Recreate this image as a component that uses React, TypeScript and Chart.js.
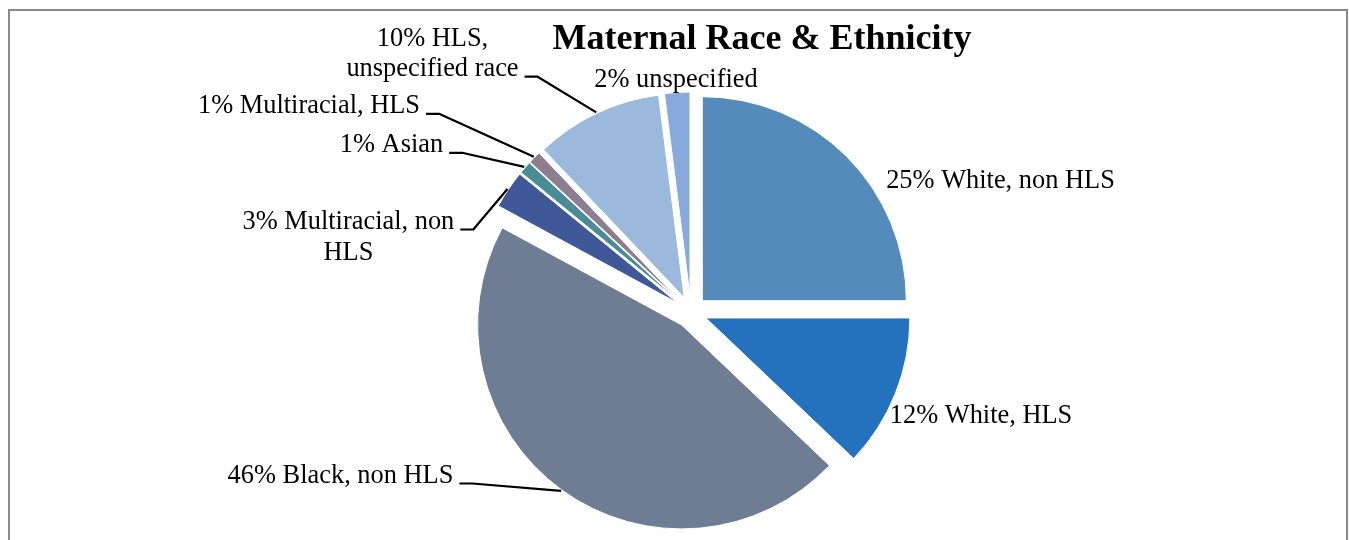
import React, { useEffect, useRef } from "react";
import { Chart, registerables } from "chart.js";

Chart.register(...registerables);

// ---- data ----
const categories = [
  "White, non HLS",
  "White, HLS",
  "Black, non HLS",
  "Multiracial, non HLS",
  "Asian",
  "Multiracial, HLS",
  "HLS, unspecified race",
  "unspecified",
];
const shares = [25.0, 12.1, 45.8, 3.0, 1.0, 1.0, 10.1, 2.0];
const sliceColors = [
  "#558BBA",
  "#2471BE",
  "#6F7D94",
  "#3E5898",
  "#4A8C96",
  "#8C7E8E",
  "#9AB9DC",
  "#88A9DC",
];
const chartTitle = "Maternal Race & Ethnicity";

// ---- layout / style ----
const W = 1349;
const H = 540;
const EXPLODE = 16;
const RADIUS = 204;
const LABEL_FONT = '26.4px "Liberation Serif", "Times New Roman", serif';
const TITLE_FONT = 'bold 36px "Liberation Serif", "Times New Roman", serif';
const TITLE_X = 762;
const TITLE_Y = 49;
const LINE_H = 30.5;
// label centre x / first-line baseline, relative to the pie centre
const labelOffsets: [number, number][] = [
  [309.5, -124],
  [290, 111],
  [-350.5, 171],
  [-342.6, -83],
  [-299.5, -159.7],
  [-382, -198.7],
  [-258.5, -266.3],
  [-15, -225.3],
];
const labelWrap = [0, 0, 0, 225, 0, 0, 185, 0];
const leaderLine = [-1, -1, 0, 0, 0, 0, 1, -1];

function wrapText(ctx: CanvasRenderingContext2D, text: string, maxW: number): string[] {
  if (!maxW) return [text];
  const words = text.split(" ");
  const lines: string[] = [];
  let cur = "";
  for (const w of words) {
    const test = cur ? cur + " " + w : w;
    if (cur && ctx.measureText(test).width > maxW) {
      lines.push(cur);
      cur = w;
    } else {
      cur = test;
    }
  }
  if (cur) lines.push(cur);
  return lines;
}

const explodePlugin = {
  id: "explodeSlices",
  afterDatasetsUpdate(chart: any) {
    const meta = chart.getDatasetMeta(0);
    meta.data.forEach((arc: any) => {
      const mid = (arc.startAngle + arc.endAngle) / 2;
      arc.x += Math.cos(mid) * EXPLODE;
      arc.y += Math.sin(mid) * EXPLODE;
    });
  },
};

const labelPlugin = {
  id: "sliceLabels",
  afterDatasetsDraw(chart: any) {
    const ctx: CanvasRenderingContext2D = chart.ctx;
    const area = chart.chartArea;
    const cx = (area.left + area.right) / 2;
    const cy = (area.top + area.bottom) / 2;
    const meta = chart.getDatasetMeta(0);
    ctx.save();
    // title
    ctx.font = TITLE_FONT;
    ctx.fillStyle = "#000";
    ctx.textAlign = "center";
    ctx.textBaseline = "alphabetic";
    ctx.fillText(chartTitle, TITLE_X, TITLE_Y);

    ctx.font = LABEL_FONT;
    ctx.strokeStyle = "#000";
    ctx.lineWidth = 2.2;
    ctx.lineJoin = "round";
    meta.data.forEach((arc: any, i: number) => {
      const text = `${Math.round(shares[i])}% ${categories[i]}`;
      const lines = wrapText(ctx, text, labelWrap[i]);
      const lx = cx + labelOffsets[i][0];
      const ly = cy + labelOffsets[i][1];
      lines.forEach((ln, k) => ctx.fillText(ln, lx, ly + k * LINE_H));
      const li = leaderLine[i];
      if (li >= 0) {
        const mid = (arc.startAngle + arc.endAngle) / 2;
        const ex = arc.x + Math.cos(mid) * (arc.outerRadius + 1);
        const ey = arc.y + Math.sin(mid) * (arc.outerRadius + 1);
        const w = ctx.measureText(lines[li]).width;
        const dir = ex > lx ? 1 : -1;
        const sx = lx + dir * (w / 2 + 6);
        const sy = ly + li * LINE_H + 0.5;
        ctx.beginPath();
        ctx.moveTo(sx, sy);
        ctx.lineTo(sx + dir * 13, sy);
        ctx.lineTo(ex, ey);
        ctx.stroke();
      }
    });
    ctx.restore();
  },
};

export default function App() {
  const ref = useRef<HTMLCanvasElement | null>(null);
  useEffect(() => {
    if (!ref.current) return;
    const chart = new Chart(ref.current, {
      type: "pie",
      data: {
        labels: categories,
        datasets: [
          {
            data: shares,
            backgroundColor: sliceColors,
            borderColor: "#ffffff",
            borderWidth: 1,
            radius: RADIUS,
            hoverOffset: 0,
          } as any,
        ],
      },
      options: {
        animation: false,
        responsive: false,
        devicePixelRatio: 1,
        events: [],
        layout: { padding: { left: 33, right: 0, top: 84, bottom: 0 } },
        plugins: {
          legend: { display: false },
          title: { display: false },
          tooltip: { enabled: false },
        },
      },
      plugins: [explodePlugin, labelPlugin],
    });
    return () => chart.destroy();
  }, []);
  return (
    <div
      style={{
        position: "fixed",
        left: 0,
        top: 0,
        width: W,
        height: H,
        overflow: "hidden",
        background: "#fff",
      }}
    >
      <div
        style={{
          position: "absolute",
          left: 8,
          top: 9,
          width: 1336,
          height: 600,
          border: "2px solid #8a8a8a",
        }}
      />
      <canvas
        ref={ref}
        width={W}
        height={H}
        style={{ position: "absolute", left: 0, top: 0 }}
      />
    </div>
  );
}
